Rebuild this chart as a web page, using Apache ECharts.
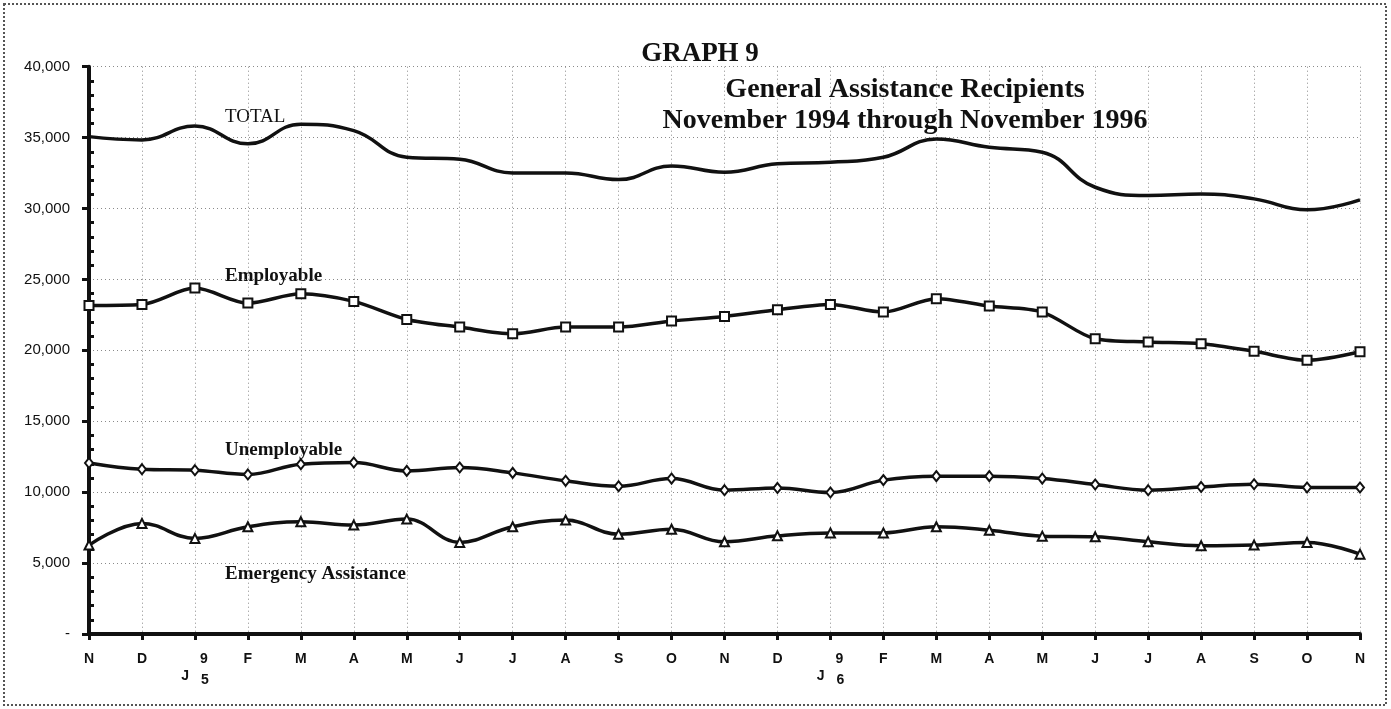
<!DOCTYPE html>
<html>
<head>
<meta charset="utf-8">
<script src="https://cdn.jsdelivr.net/npm/echarts@6/dist/echarts.min.js"></script>
<style>
html,body{margin:0;padding:0;background:#fff;}
#c{width:1391px;height:709px;}
</style>
</head>
<body>
<div id="c"></div>
<script>
// ---- data ----
const categories = ['N','D','J','F','M','A','M','J','J','A','S','O','N','D','J','F','M','A','M','J','J','A','S','O','N'];
const yearMarks  = ['','','95','','','','','','','','','','','','96','','','','','','','','','',''];
const yTickLabels = ['-','5,000','10,000','15,000','20,000','25,000','30,000','35,000','40,000'];

const total = [35070,34840,35820,34560,35950,35490,33620,33470,32510,32510,32040,33000,32560,33150,33260,33610,34900,34320,33970,31500,30920,31030,30680,29910,30610];
const employable = [23170,23240,24390,23330,23990,23450,22180,21640,21170,21640,21640,22070,22390,22860,23240,22700,23640,23120,22700,20820,20590,20470,19930,19300,19900];
const unemployable = [12060,11620,11550,11250,11970,12090,11500,11740,11360,10800,10420,10960,10140,10300,9980,10850,11130,11130,10960,10540,10140,10370,10560,10330,10330];
const emergency = [6270,7800,6740,7560,7910,7680,8100,6460,7560,8030,7040,7390,6500,6920,7130,7130,7560,7320,6900,6850,6500,6220,6270,6460,5630];

const seriesNames = ['TOTAL','Employable','Unemployable','Emergency Assistance'];
const titleText = 'GRAPH 9';
const subtitleText = 'General Assistance Recipients\nNovember 1994 through November 1996';

// ---- chart ----
const chart = echarts.init(document.getElementById('c'), null, {renderer:'canvas'});
const INK = '#111';
const serif = '"Liberation Serif","Times New Roman",serif';
const sans = '"Liberation Sans",Arial,sans-serif';

function xLabel(value, idx) {
  const y = yearMarks[idx];
  if (y) {
    return '{pad|}{n|' + y.charAt(0) + '}\n{j|' + value + '}{gap|}{low|' + y.charAt(1) + '}';
  }
  return '{n|' + value + '}';
}

const lineCommon = {
  type:'line',
  lineStyle:{color:INK, width:3.5},
  itemStyle:{color:'#fff', borderColor:INK, borderWidth:2},
  emphasis:{disabled:true},
  z:5
};

chart.setOption({
  animation:false,
  backgroundColor:'#fff',
  title:[
    {text:titleText, left:695, top:34, textAlign:'center',
     textStyle:{fontFamily:serif, fontWeight:'bold', fontSize:27, lineHeight:31, color:INK}},
    {text:subtitleText, left:900, top:70, textAlign:'center',
     textStyle:{fontFamily:serif, fontWeight:'bold', fontSize:28, lineHeight:30.5, color:INK}}
  ],
  grid:{left:89, right:31, top:66.7, bottom:75, containLabel:false},
  xAxis:{
    type:'category', data:categories, boundaryGap:false,
    axisLine:{lineStyle:{color:INK, width:4}},
    axisTick:{show:true, length:6, inside:false, lineStyle:{color:INK, width:3}, alignWithLabel:true},
    axisLabel:{
      interval:0, margin:16, formatter:xLabel,
      rich:{
        n:{fontFamily:sans, fontWeight:'bold', fontSize:14, lineHeight:19, color:INK},
        j:{fontFamily:sans, fontWeight:'bold', fontSize:14, lineHeight:15, color:INK, verticalAlign:'top'},
        low:{fontFamily:sans, fontWeight:'bold', fontSize:14, lineHeight:19, color:INK, verticalAlign:'top', padding:[4,0,0,0]},
        pad:{width:18, lineHeight:19},
        gap:{width:12, lineHeight:15}
      }
    },
    splitLine:{show:true, lineStyle:{color:'#8a8a8a', width:1, type:[1,3]}}
  },
  yAxis:[
    {
      type:'value', min:0, max:40000, interval:5000,
      axisLine:{show:true, lineStyle:{color:INK, width:4}},
      axisTick:{show:true, length:7, lineStyle:{color:INK, width:3}},
      axisLabel:{margin:19, fontFamily:sans, fontSize:15, color:INK,
        formatter:function(v){ return yTickLabels[Math.round(v/5000)]; }},
      splitLine:{show:true, lineStyle:{color:'#8a8a8a', width:1, type:[1,3]}}
    },
    {
      type:'value', min:0, max:40000, interval:5000, position:'left', offset:0,
      axisLine:{show:false},
      axisTick:{show:true, inside:true, length:0, lineStyle:{opacity:0}},
      minorTick:{show:true, splitNumber:5, length:5, lineStyle:{color:INK, width:3}},
      axisLabel:{show:false},
      splitLine:{show:false}
    }
  ],
  series:[
    Object.assign({}, lineCommon, {name:seriesNames[0], data:total, smooth:0.45, showSymbol:false, symbol:'none'}),
    Object.assign({}, lineCommon, {name:seriesNames[1], data:employable, smooth:0.3, symbol:'rect', symbolSize:9}),
    Object.assign({}, lineCommon, {name:seriesNames[2], data:unemployable, smooth:0.4, symbol:'diamond', symbolSize:[8,10]}),
    Object.assign({}, lineCommon, {name:seriesNames[3], data:emergency, smooth:0.4, symbol:'triangle', symbolSize:9})
  ],
  graphic:[
    {type:'text', left:225, top:108, style:{text:seriesNames[0], font:'normal 19px '+serif, fill:INK}},
    {type:'text', left:225, top:267, style:{text:seriesNames[1], font:'bold 19px '+serif, fill:INK}},
    {type:'text', left:225, top:441, style:{text:seriesNames[2], font:'bold 19px '+serif, fill:INK}},
    {type:'text', left:225, top:565, style:{text:seriesNames[3], font:'bold 19px '+serif, fill:INK}},
    {type:'rect', shape:{x:4, y:4, width:1382, height:701}, silent:true, z:-1,
     style:{fill:'none', stroke:'#555', lineWidth:2, lineDash:[2,2]}}
  ]
});
</script>
</body>
</html>
